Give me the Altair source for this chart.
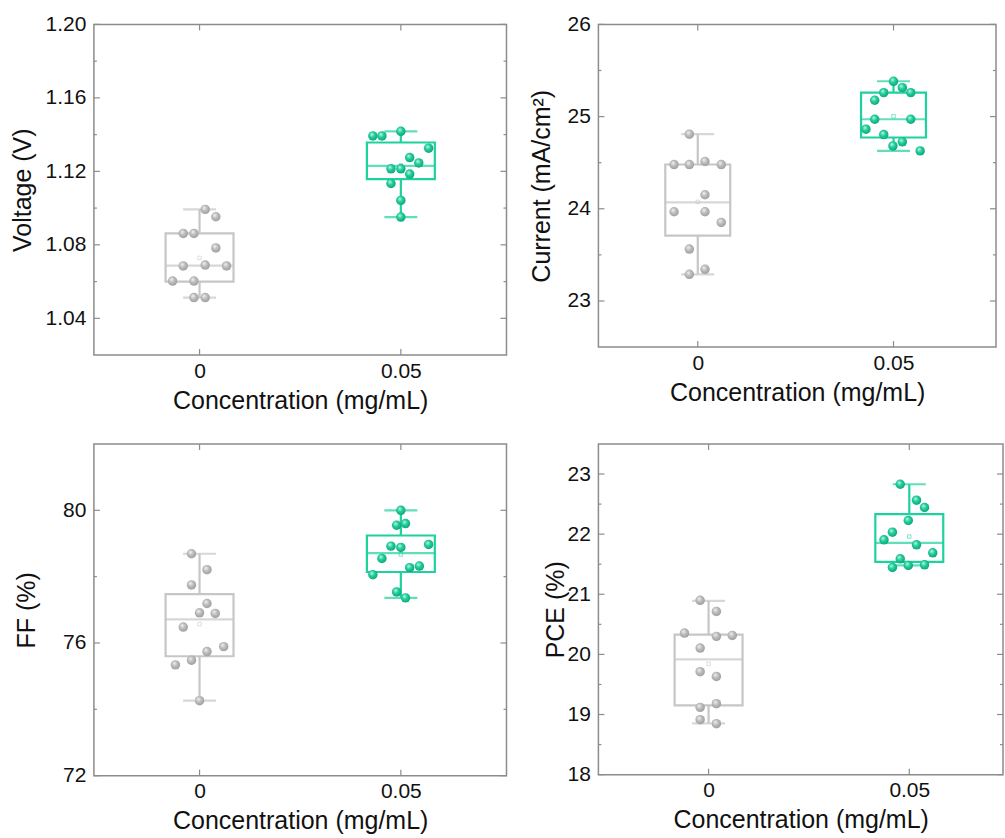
import altair as alt
import numpy as np
import pandas as pd

# Concentration groups (mg/mL)
CONC = [0.0, 0.05]
GROUPS = ["0", "0.05"]

GRAY = "#C6C6C6"
GREEN = "#1ED29E"
FRAME = "#8C8C8C"
FONT = "Liberation Sans"
XTITLE = "Concentration (mg/mL)"

# ---- Voltage (V) ----
volt_0 = [1.0993, 1.0953, 1.0862, 1.0862, 1.0783, 1.0685, 1.0690, 1.0685, 1.0603, 1.0603, 1.0513, 1.0513]
volt_0_jit = [0.028, 0.081, -0.081, -0.028, 0.081, -0.081, 0.028, 0.134, -0.134, -0.028, -0.028, 0.028]
volt_1 = [1.1393, 1.1393, 1.1418, 1.1326, 1.1275, 1.1246, 1.1214, 1.1214, 1.1185, 1.1134, 1.1042, 1.0951]
volt_1_jit = [-0.139, -0.094, 0.0, 0.138, 0.044, 0.089, -0.049, 0.0, 0.044, -0.049, 0.0, 0.0]
volt_lo = [1.0513, 1.0951]
volt_q1 = [1.0600, 1.1158]
volt_med = [1.0687, 1.1230]
volt_q3 = [1.0862, 1.1357]
volt_hi = [1.0993, 1.1418]

# ---- Current (mA/cm2) ----
curr_0 = [24.809, 24.48, 24.48, 24.513, 24.48, 24.152, 23.968, 23.968, 23.852, 23.563, 23.343, 23.289]
curr_0_jit = [-0.043, -0.121, -0.043, 0.037, 0.120, 0.037, -0.121, 0.037, 0.120, -0.043, 0.037, -0.043]
curr_1 = [25.383, 25.314, 25.260, 25.260, 25.177, 24.971, 24.971, 24.863, 24.805, 24.726, 24.682, 24.628]
curr_1_jit = [0.0, 0.045, -0.050, 0.088, -0.096, -0.096, 0.088, -0.141, -0.050, 0.045, -0.003, 0.136]
curr_lo = [23.289, 24.628]
curr_q1 = [23.708, 24.773]
curr_med = [24.069, 24.971]
curr_q3 = [24.48, 25.260]
curr_hi = [24.809, 25.383]

# ---- FF (%) ----
ff_0 = [78.69, 78.21, 77.75, 77.19, 76.91, 76.89, 76.48, 75.89, 75.74, 75.48, 75.34, 74.26]
ff_0_jit = [-0.040, 0.037, -0.040, 0.037, 0.0, 0.078, -0.081, 0.120, 0.037, -0.040, -0.120, 0.0]
ff_1 = [80.0, 79.55, 79.60, 78.97, 78.92, 78.88, 78.55, 78.32, 78.27, 78.06, 77.54, 77.36]
ff_1_jit = [0.0, -0.021, 0.023, 0.138, -0.049, 0.0, -0.094, 0.092, 0.044, -0.139, -0.021, 0.023]
ff_lo = [74.26, 77.36]
ff_q1 = [75.60, 78.14]
ff_med = [76.71, 78.71]
ff_q3 = [77.47, 79.24]
ff_hi = [78.69, 80.0]

# ---- PCE (%) ----
pce_0 = [20.90, 20.715, 20.355, 20.30, 20.316, 20.105, 19.712, 19.634, 19.119, 19.18, 18.914, 18.848]
pce_0_jit = [-0.042, 0.039, -0.120, 0.039, 0.118, -0.042, -0.042, 0.039, -0.042, 0.039, -0.042, 0.039]
pce_1 = [22.83, 22.565, 22.443, 22.227, 22.033, 21.906, 21.823, 21.69, 21.59, 21.48, 21.49, 21.446]
pce_1_jit = [-0.045, 0.036, 0.076, -0.005, -0.084, -0.126, 0.036, 0.117, -0.045, -0.005, 0.076, -0.084]
pce_lo = [18.853, 21.48]
pce_q1 = [19.152, 21.54]
pce_med = [19.917, 21.856]
pce_q3 = [20.33, 22.332]
pce_hi = [20.89, 22.83]


def sphere(light, base, dark):
    return alt.RadialGradient(
        gradient="radial",
        stops=[
            alt.GradientStop(color=light, offset=0),
            alt.GradientStop(color=base, offset=0.45),
            alt.GradientStop(color=dark, offset=1),
        ],
        x1=0.38, y1=0.32, r1=0.0,
        x2=0.45, y2=0.45, r2=0.62,
    )


GRAY_BALL = sphere("#f4f4f4", "#bdbdbd", "#9a9a9a")
GREEN_BALL = sphere("#c9f6e6", "#1fcf9c", "#0f9e74")


def panel(v0, j0, v1, j1, lo, q1, med, q3, hi, ytitle, ydomain, ylabels, yminor,
          yfmt, width, height, xmin, xmax, box_w, cap_w, title_x):
    pts = pd.DataFrame({
        "grp": [GROUPS[0]] * len(v0) + [GROUPS[1]] * len(v1),
        "val": v0 + v1,
        "xpos": [CONC[0] + j * 0.05 for j in j0] + [CONC[1] + j * 0.05 for j in j1],
    })
    box = pd.DataFrame({
        "conc": CONC, "grp": GROUPS,
        "lo": lo, "q1": q1, "med": med, "q3": q3, "hi": hi,
        "mean": [float(np.mean(v0)), float(np.mean(v1))],
    })

    xscale = alt.Scale(domain=[xmin, xmax], nice=False, zero=False)
    xaxis = alt.Axis(values=CONC, format="~g", ticks=False, domain=False, grid=False,
                     labelPadding=5, titlePadding=7)
    yscale = alt.Scale(domain=ydomain, nice=False, zero=False)
    yaxis = alt.Axis(values=ylabels, format=yfmt, ticks=False, domain=False, grid=False,
                     labelPadding=8, titleX=title_x, titleAngle=270,
                     titleBaseline="alphabetic")

    def X(f):
        return alt.X(f, type="quantitative", scale=xscale, axis=xaxis, title=XTITLE)

    def Y(f):
        return alt.Y(f, type="quantitative", scale=yscale, axis=yaxis, title=ytitle)

    color = alt.Color("grp:N", scale=alt.Scale(domain=GROUPS, range=[GRAY, GREEN]), legend=None)

    lw = 2.2
    b = alt.Chart(box)
    layers = [
        b.mark_rule(strokeWidth=lw).encode(x=X("conc"), y=Y("lo"), y2="q1", color=color),
        b.mark_rule(strokeWidth=lw).encode(x=X("conc"), y=Y("q3"), y2="hi", color=color),
        b.mark_bar(filled=False, size=box_w, strokeWidth=lw).encode(
            x=X("conc"), y=Y("q1"), y2="q3", color=color),
        b.mark_tick(orient="horizontal", size=box_w, thickness=lw).encode(
            x=X("conc"), y=Y("med"), color=color),
        b.mark_tick(orient="horizontal", size=cap_w, thickness=lw).encode(
            x=X("conc"), y=Y("lo"), color=color),
        b.mark_tick(orient="horizontal", size=cap_w, thickness=lw).encode(
            x=X("conc"), y=Y("hi"), color=color),
        b.mark_point(shape="square", size=12, filled=False, strokeWidth=0.8).encode(
            x=X("conc"), y=Y("mean"), color=color),
    ]

    p = alt.Chart(pts)
    layers += [
        p.transform_filter(alt.datum.grp == GROUPS[0]).mark_circle(
            size=90, opacity=1, fill=GRAY_BALL).encode(x=X("xpos"), y=Y("val")),
        p.transform_filter(alt.datum.grp == GROUPS[1]).mark_circle(
            size=90, opacity=1, fill=GREEN_BALL).encode(x=X("xpos"), y=Y("val")),
    ]

    # inward-pointing frame ticks
    major = alt.Chart(pd.DataFrame({"t": ylabels}))
    minor = alt.Chart(pd.DataFrame({"t": yminor}))
    cats = alt.Chart(pd.DataFrame({"c": CONC}))
    tick = dict(color=FRAME, strokeWidth=1.2)
    layers += [
        major.mark_rule(**tick).encode(y=Y("t"), x=alt.value(0), x2=alt.value(6)),
        major.mark_rule(**tick).encode(y=Y("t"), x=alt.value(width - 6), x2=alt.value(width)),
        minor.mark_rule(**tick).encode(y=Y("t"), x=alt.value(0), x2=alt.value(3)),
        minor.mark_rule(**tick).encode(y=Y("t"), x=alt.value(width - 3), x2=alt.value(width)),
        cats.mark_rule(**tick).encode(x=X("c"), y=alt.value(height - 6), y2=alt.value(height)),
        cats.mark_rule(**tick).encode(x=X("c"), y=alt.value(0), y2=alt.value(6)),
    ]
    return alt.layer(*layers).properties(width=width, height=height)


p_volt = panel(volt_0, volt_0_jit, volt_1, volt_1_jit, volt_lo, volt_q1, volt_med, volt_q3, volt_hi,
               "Voltage (V)", [1.02, 1.20], [1.04, 1.08, 1.12, 1.16, 1.20],
               [1.06, 1.10, 1.14, 1.18], ".2f", 413, 331, -0.025, 0.075, 68, 33, -63)
p_curr = panel(curr_0, curr_0_jit, curr_1, curr_1_jit, curr_lo, curr_q1, curr_med, curr_q3, curr_hi,
               "Current (mA/cm²)", [22.5, 26], [23, 24, 25, 26],
               [23.5, 24.5, 25.5], "d", 398, 323, -0.0241, 0.0749, 65, 33, -49)
p_ff = panel(ff_0, ff_0_jit, ff_1, ff_1_jit, ff_lo, ff_q1, ff_med, ff_q3, ff_hi,
             "FF (%)", [72, 82], [72, 76, 80], [74, 78], "d", 413, 332, -0.025, 0.075, 68, 33, -59)
p_pce = panel(pce_0, pce_0_jit, pce_1, pce_1_jit, pce_lo, pce_q1, pce_med, pce_q3, pce_hi,
              "PCE (%)", [18, 23.5], [18, 19, 20, 21, 22, 23],
              [18.5, 19.5, 20.5, 21.5, 22.5], "d", 405, 331, -0.0262, 0.0721, 68, 33, -35)

chart = alt.concat(
    p_volt, p_curr, p_ff, p_pce,
    columns=2, bounds="flush",
    spacing=alt.RowColnumber(row=89, column=92),
).properties(
    padding={"left": 10, "top": 12, "right": 0, "bottom": 0},
    background="white",
).configure_view(
    stroke=FRAME, strokeWidth=1.5
).configure_axis(
    labelFont=FONT, titleFont=FONT, labelFontSize=21, titleFontSize=25,
    titleFontWeight="normal", labelColor="#111111", titleColor="#111111",
)

chart.save("out.html", embed_options={"renderer": "svg", "actions": False})
